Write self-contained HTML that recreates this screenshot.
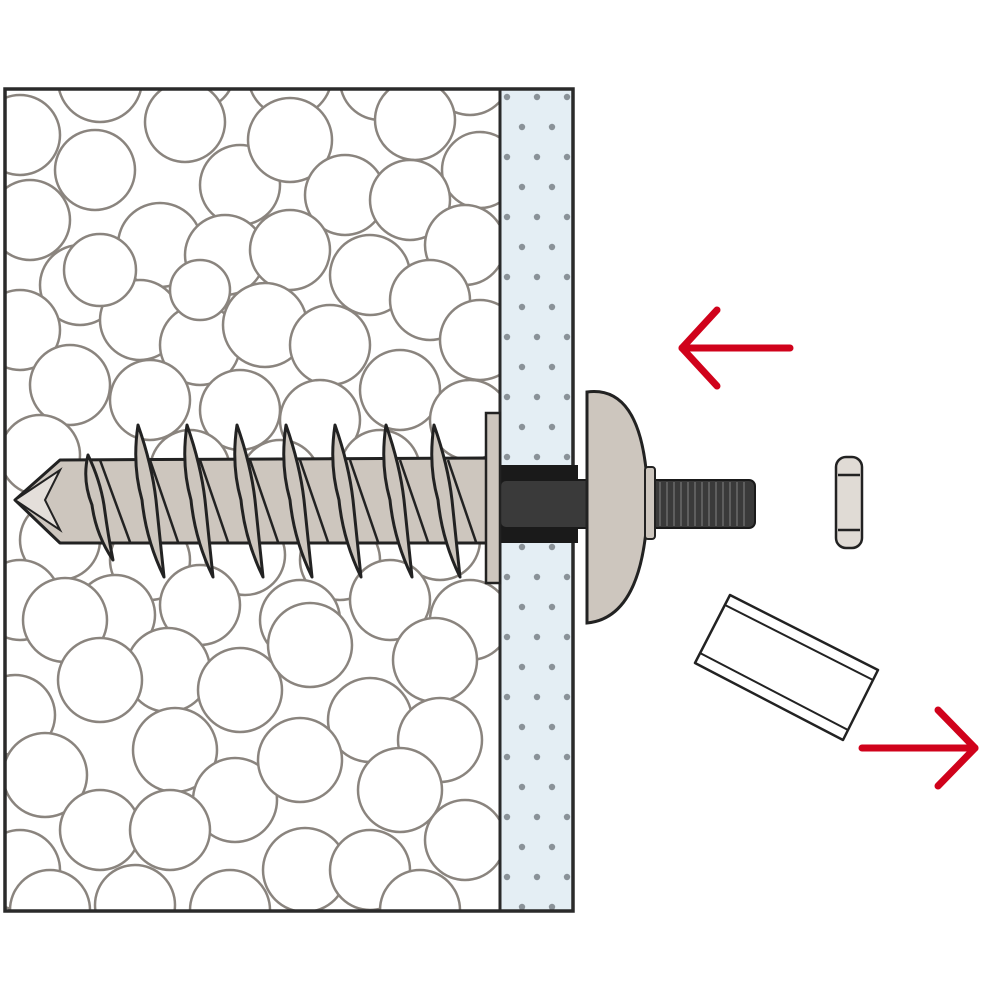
<!DOCTYPE html>
<html><head><meta charset="utf-8"><style>html,body{margin:0;padding:0;background:#fff}svg{display:block}</style></head>
<body>
<svg width="1000" height="1000" viewBox="0 0 1000 1000" xmlns="http://www.w3.org/2000/svg">
<defs>
<clipPath id="foam"><rect x="5" y="89" width="495" height="822"/></clipPath>
<pattern id="dots" x="500" y="97" width="60" height="60" patternUnits="userSpaceOnUse">
<circle cx="7" cy="0" r="3.2" fill="#8a9298"/><circle cx="37" cy="0" r="3.2" fill="#8a9298"/><circle cx="67" cy="0" r="3.2" fill="#8a9298"/>
<circle cx="22" cy="30" r="3.2" fill="#8a9298"/><circle cx="52" cy="30" r="3.2" fill="#8a9298"/>
<circle cx="7" cy="60" r="3.2" fill="#8a9298"/><circle cx="37" cy="60" r="3.2" fill="#8a9298"/><circle cx="67" cy="60" r="3.2" fill="#8a9298"/>
</pattern>
<g id="fin"><path d="M0,0 Q14,40 18,75 Q22,115 26,152 Q8,115 4,75 Q-6,40 0,0 Z"/></g>
</defs>
<rect x="5" y="89" width="495" height="822" fill="#fff"/>
<g clip-path="url(#foam)" fill="#fff" stroke="#8a847e" stroke-width="2.5">
<circle cx="100" cy="80" r="42"/><circle cx="195" cy="70" r="40"/><circle cx="290" cy="75" r="42"/><circle cx="380" cy="80" r="40"/><circle cx="470" cy="75" r="40"/>
<circle cx="20" cy="135" r="40"/><circle cx="185" cy="122" r="40"/><circle cx="240" cy="185" r="40"/><circle cx="290" cy="140" r="42"/><circle cx="415" cy="120" r="40"/><circle cx="480" cy="170" r="38"/>
<circle cx="95" cy="170" r="40"/><circle cx="345" cy="195" r="40"/><circle cx="410" cy="200" r="40"/>
<circle cx="30" cy="220" r="40"/><circle cx="160" cy="245" r="42"/><circle cx="225" cy="255" r="40"/><circle cx="290" cy="250" r="40"/><circle cx="465" cy="245" r="40"/>
<circle cx="80" cy="285" r="40"/><circle cx="370" cy="275" r="40"/><circle cx="430" cy="300" r="40"/>
<circle cx="20" cy="330" r="40"/><circle cx="140" cy="320" r="40"/><circle cx="200" cy="345" r="40"/><circle cx="265" cy="325" r="42"/><circle cx="330" cy="345" r="40"/><circle cx="480" cy="340" r="40"/>
<circle cx="70" cy="385" r="40"/><circle cx="150" cy="400" r="40"/><circle cx="240" cy="410" r="40"/><circle cx="320" cy="420" r="40"/><circle cx="400" cy="390" r="40"/><circle cx="470" cy="420" r="40"/>
<circle cx="40" cy="455" r="40"/><circle cx="190" cy="470" r="40"/><circle cx="280" cy="480" r="40"/><circle cx="380" cy="470" r="40"/>
<circle cx="60" cy="540" r="40"/><circle cx="150" cy="560" r="40"/><circle cx="245" cy="555" r="40"/><circle cx="340" cy="560" r="40"/><circle cx="440" cy="540" r="40"/>
<circle cx="20" cy="600" r="40"/><circle cx="115" cy="615" r="40"/><circle cx="200" cy="605" r="40"/><circle cx="300" cy="620" r="40"/><circle cx="390" cy="600" r="40"/><circle cx="470" cy="620" r="40"/>
<circle cx="65" cy="620" r="42"/><circle cx="168" cy="670" r="42"/><circle cx="240" cy="690" r="42"/><circle cx="310" cy="645" r="42"/><circle cx="435" cy="660" r="42"/>
<circle cx="15" cy="715" r="40"/><circle cx="100" cy="680" r="42"/><circle cx="370" cy="720" r="42"/><circle cx="440" cy="740" r="42"/>
<circle cx="45" cy="775" r="42"/><circle cx="175" cy="750" r="42"/><circle cx="235" cy="800" r="42"/><circle cx="300" cy="760" r="42"/><circle cx="400" cy="790" r="42"/><circle cx="465" cy="840" r="40"/>
<circle cx="100" cy="830" r="40"/><circle cx="170" cy="830" r="40"/><circle cx="305" cy="870" r="42"/><circle cx="370" cy="870" r="40"/>
<circle cx="20" cy="870" r="40"/><circle cx="50" cy="910" r="40"/><circle cx="135" cy="905" r="40"/><circle cx="230" cy="910" r="40"/><circle cx="420" cy="910" r="40"/>
<circle cx="100" cy="270" r="36"/><circle cx="200" cy="290" r="30"/>
</g>
<rect x="500" y="89" width="73" height="822" fill="#e4eef4"/>
<rect x="500" y="89" width="73" height="822" fill="url(#dots)"/>
<rect x="5" y="89" width="568" height="822" fill="none" stroke="#2a2a2a" stroke-width="3.5"/>
<line x1="500" y1="89" x2="500" y2="911" stroke="#2a2a2a" stroke-width="3"/>

<rect x="500" y="465" width="78" height="78" fill="#1a1a1a"/>
<rect x="500" y="480" width="255" height="48" rx="6" fill="#3a3a3a" stroke="#1a1a1a" stroke-width="2"/>
<g stroke="#6a6a6a" stroke-width="1.5">
<line x1="660" y1="482" x2="660" y2="526"/><line x1="667" y1="482" x2="667" y2="526"/><line x1="674" y1="482" x2="674" y2="526"/><line x1="681" y1="482" x2="681" y2="526"/><line x1="688" y1="482" x2="688" y2="526"/><line x1="695" y1="482" x2="695" y2="526"/><line x1="702" y1="482" x2="702" y2="526"/><line x1="709" y1="482" x2="709" y2="526"/><line x1="716" y1="482" x2="716" y2="526"/><line x1="723" y1="482" x2="723" y2="526"/><line x1="730" y1="482" x2="730" y2="526"/><line x1="737" y1="482" x2="737" y2="526"/><line x1="744" y1="482" x2="744" y2="526"/>
</g>

<path d="M15,500 L60,460 L487,458 L487,543 L60,543 Z" fill="#cdc6be" stroke="#222" stroke-width="3" stroke-linejoin="round"/>
<path d="M15,500 L60,470 L45,500 L60,530 Z" fill="#e4dfda" stroke="#222" stroke-width="2"/>
<g stroke="#222" stroke-width="2.5" fill="none">
<path d="M100,460 L130,542"/><path d="M150,460 L178,542"/><path d="M200,460 L228,542"/><path d="M250,460 L278,542"/><path d="M300,460 L328,542"/><path d="M350,460 L378,542"/><path d="M400,460 L428,542"/><path d="M448,460 L476,542"/>
</g>
<g fill="#cdc6be" stroke="#222" stroke-width="3" stroke-linejoin="round">
<path d="M88,455 Q100,480 104,505 Q108,535 113,560 Q96,535 92,505 Q82,480 88,455 Z"/>
<use href="#fin" x="138" y="425"/><use href="#fin" x="187" y="425"/><use href="#fin" x="237" y="425"/><use href="#fin" x="286" y="425"/><use href="#fin" x="335" y="425"/><use href="#fin" x="386" y="425"/><use href="#fin" x="434" y="425"/>
</g>
<rect x="486" y="413" width="14" height="170" fill="#cdc6be" stroke="#222" stroke-width="2.5"/>
<path d="M587,392 Q640,385 647,480 L647,520 Q640,618 587,623 Z" fill="#cdc6be" stroke="#222" stroke-width="3"/>
<rect x="645" y="467" width="10" height="72" rx="3" fill="#cdc6be" stroke="#222" stroke-width="2"/>

<rect x="836" y="457" width="26" height="91" rx="10" fill="#e0dbd5" stroke="#222" stroke-width="2.5"/>
<line x1="838" y1="475" x2="860" y2="475" stroke="#222" stroke-width="2.5"/>
<line x1="838" y1="530" x2="860" y2="530" stroke="#222" stroke-width="2.5"/>

<polygon points="730,595 878,670 843,740 695,663" fill="#fff" stroke="#222" stroke-width="2.5" stroke-linejoin="round"/>
<line x1="725" y1="605" x2="873" y2="680" stroke="#222" stroke-width="2"/>
<line x1="700" y1="653" x2="848" y2="730" stroke="#222" stroke-width="2"/>

<g stroke="#d0021b" stroke-width="7" stroke-linecap="round" stroke-linejoin="round" fill="none">
<path d="M790,348 L682,348"/><path d="M717,310 L682,348 L717,386"/>
<path d="M862,748 L975,748"/><path d="M938,710 L975,748 L938,786"/>
</g>
</svg>
</body></html>
